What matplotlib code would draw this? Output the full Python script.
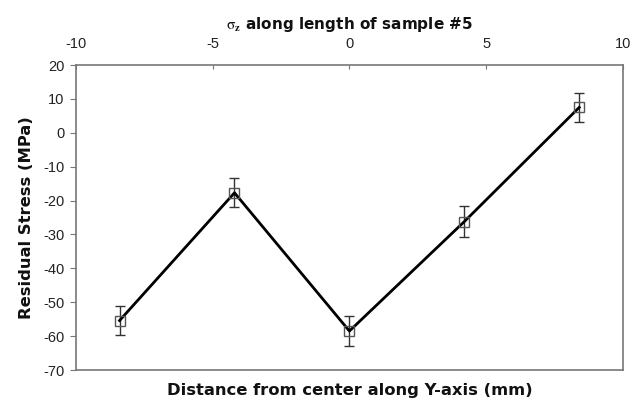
import matplotlib
matplotlib.use("Agg")
import matplotlib.pyplot as plt

plt.rcParams['mathtext.fontset'] = 'stix'

# Residual stress profile along the sample
distance_mm = [-8.4, -4.2, 0.0, 4.2, 8.4]
stress_mpa = [-55.4, -17.7, -58.5, -26.2, 7.5]
stress_err = [4.2, 4.3, 4.4, 4.5, 4.3]

x_ticks = [-10, -5, 0, 5, 10]
y_ticks = [20, 10, 0, -10, -20, -30, -40, -50, -60, -70]

fig = plt.figure(figsize=(6.37, 4.05), dpi=100)
ax = fig.add_axes([0.119, 0.0864, 0.859, 0.753])

ax.errorbar(distance_mm, stress_mpa, yerr=stress_err,
            color='black', lw=2.0, ecolor='#333333', elinewidth=1.0,
            capsize=3.5, capthick=1.0, zorder=2)
ax.plot(distance_mm, stress_mpa, ls='none', marker='s', ms=7,
        mfc='none', mec='#555555', mew=1.0, zorder=3)

ax.set_xlim(-10, 10)
ax.set_ylim(-70, 20)

tick_font = dict(family='Liberation Sans', size=10.5, color='#222222')

ax.xaxis.tick_top()
ax.set_xticks(x_ticks)
ax.set_xticklabels([str(t) for t in x_ticks], **tick_font)
ax.tick_params(axis='x', direction='in', length=3, color='#777777', pad=10)

ax.set_yticks(y_ticks)
ax.set_yticklabels([str(t) for t in y_ticks], **tick_font)
ax.tick_params(axis='y', direction='out', length=4, color='#777777', pad=4)

for spine in ax.spines.values():
    spine.set_color('#777777')
    spine.set_linewidth(1.2)

ax.xaxis.set_label_position('bottom')
ax.set_xlabel('Distance from center along Y-axis (mm)', fontsize=11.8,
              fontweight='bold', color='#111111', labelpad=9)
ax.set_ylabel('Residual Stress (MPa)', fontsize=11.8, fontweight='bold',
              color='#111111', labelpad=7)
ax.set_title(r'$\mathrm{\sigma}_\mathbf{z}$ along length of sample #5', fontsize=11,
             fontweight='bold', color='#111111', pad=26)

fig.savefig('out.png', dpi=100, facecolor='white')
